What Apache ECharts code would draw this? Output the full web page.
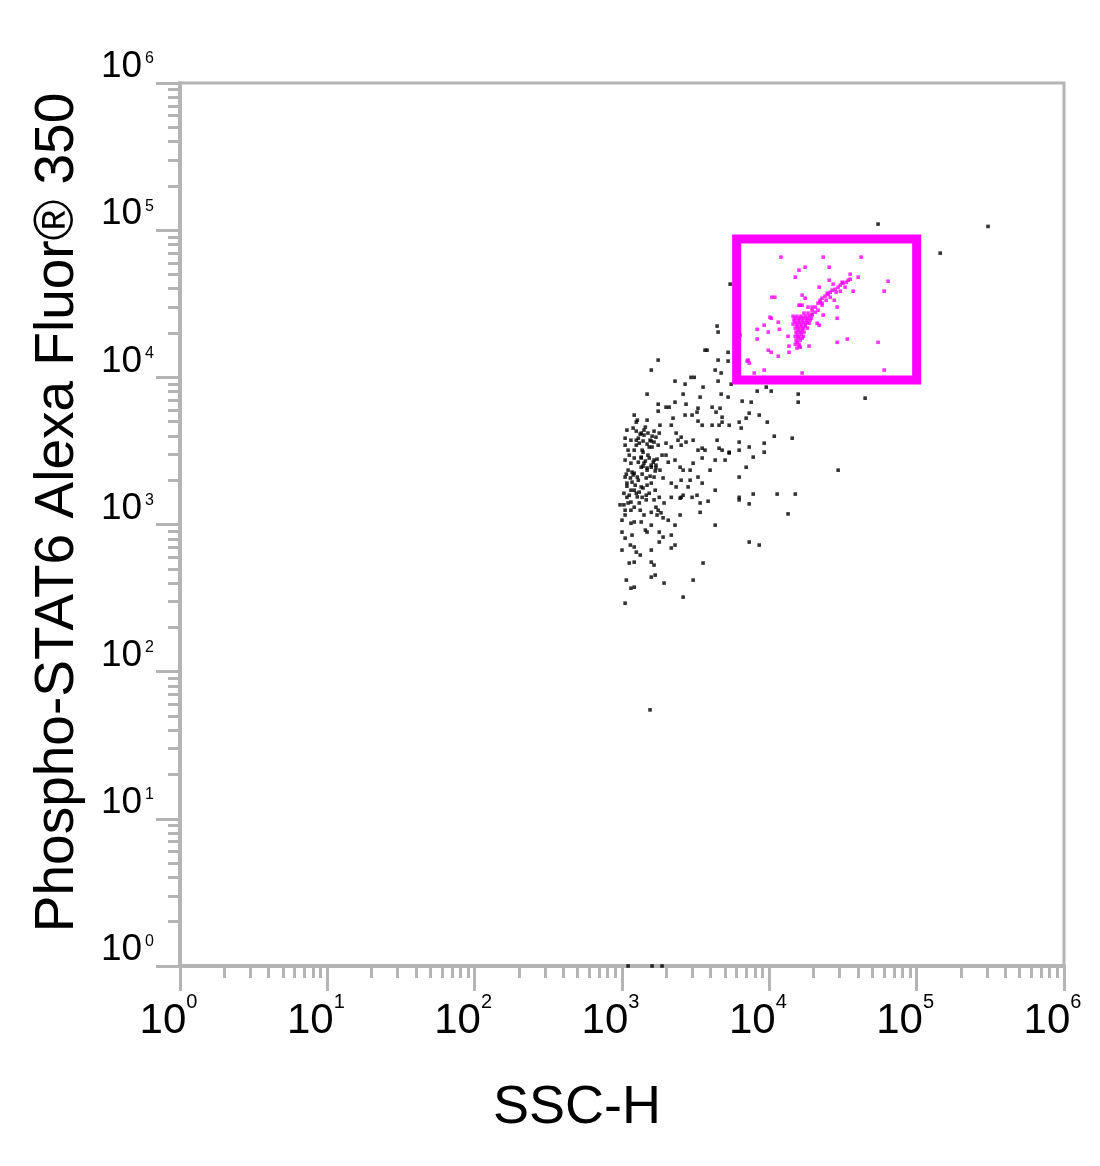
<!DOCTYPE html>
<html><head><meta charset="utf-8">
<script src="https://cdn.jsdelivr.net/npm/echarts@6/dist/echarts.min.js"></script>
<style>html,body{margin:0;padding:0;background:#fff}#chart{width:1100px;height:1166px}</style>
</head><body><div id="chart"></div>
<script>
// ---- chart data ----
const xTitle = 'SSC-H';
const yTitle = 'Phospho-STAT6 Alexa Fluor® 350';
const decadeExponents = [0, 1, 2, 3, 4, 5, 6];
const minorMultipliers = [2, 3, 4, 5, 6, 7, 8, 9];

// events outside the gate: [SSC-H, Phospho-STAT6]
const ungatedEvents = [
[54700,110000],[305000,106000],[144500,69800],[5420,43000],[4420,22300],[4490,20300],[3780,15300],[5250,14800],[5250,12900],[4490,13100],
[1760,13100],[1580,11200],[4290,11200],[4710,10700],[2290,9420],[2680,8990],[2940,10000],[3090,10000],[3550,8580],[4490,9420],
[5510,8990],[1480,7690],[2600,7690],[3390,7340],[4710,7690],[5250,7340],[6540,6890],[7530,6780],[8270,8060],[9530,8580],
[10300,8060],[15700,7690],[15700,6780],[44700,7220],[1760,6570],[1760,5890],[2290,6780],[2720,6570],[1990,6270],[2090,6270],
[3280,6170],[3230,5800],[4090,6270],[4350,5800],[4630,6170],[4780,5360],[4780,4960],[7300,5710],[6960,5280],[8540,5540],
[9680,4960],[1210,5540],[1250,4960],[1270,5120],[1480,5120],[2220,5280],[2680,5540],[2990,5540],[3280,5040],[3500,4730],
[4090,4730],[4560,4730],[5340,4730],[6440,4520],[6240,4960],[1350,4180],[1410,4050],[1650,4310],[1700,3920],[1790,4180],
[2160,4730],[2330,4180],[2520,3920],[10800,3980],[14300,3860],[1050,3860],[1050,3460],[1150,3740],[1210,3200],[1310,3570],
[1370,3200],[1530,3360],[1650,3630],[1760,3460],[1990,3570],[2160,3360],[2400,3740],[2520,3460],[2720,3630],[3040,3740],
[3280,3200],[3500,3300],[3660,3200],[4420,3740],[4560,3300],[4780,3200],[5340,3100],[6240,3630],[6240,3200],[7300,3360],
[7770,2870],[9230,3570],[9230,3100],[1120,2960],[1050,2740],[1150,2610],[1210,2830],[1350,2450],[1410,2610],[1480,2420],
[1580,2530],[1650,2740],[1700,2420],[1990,2960],[2060,2650],[2290,2740],[2480,2450],[2600,2340],[2900,2340],[3500,2830],
[3040,2610],[3280,2100],[3960,2340],[4290,2740],[5010,2740],[5340,3060],[6240,2100],[6960,2450],[29300,2340],[1050,2100],
[1080,1910],[1170,1940],[1270,2100],[1350,1800],[1460,2070],[1580,1910],[1650,2100],[1900,2070],[2160,1910],[2330,1800],
[2520,2000],[2900,2000],[2810,1800],[2520,1530],[3500,1910],[4290,1710],[6240,1530],[6240,1470],[7770,1610],[7300,1380],
[11300,1610],[15000,1610],[13400,1180],[1030,1630],[1080,1530],[1150,1420],[1210,1710],[1310,1400],[1370,1530],[1530,1630],
[1650,1470],[1790,1530],[1700,1310],[1030,1360],[1050,1250],[1150,1250],[1210,1310],[1930,1400],[2160,1530],[2480,1510],
[2600,1580],[2990,1530],[3230,1580],[3390,1400],[3840,1440],[1410,1160],[1580,1210],[1760,1250],[1840,1200],[1900,1110],
[1050,1160],[1210,1040],[1150,1020],[1350,1040],[1580,990],[2060,1070],[2290,990],[2480,1160],[3390,1210],[4290,990],
[1000,888],[1050,808],[1170,847],[1480,888],[1790,888],[1900,821],[2160,847],[7300,760],[8540,725],[1000,670],
[1210,703],[1250,649],[1580,670],[1790,760],[2160,692],[2290,725],[1120,547],[1210,555],[1580,555],[1650,530],
[1580,439],[1930,400],[3040,419],[3550,547],[1150,369],[1210,375],[2600,321],[1050,292],[1550,55],[1100,1],
[1600,1],[1870,1],[1080,4380],[1190,4520],[1250,3740],[1440,4590],[1550,3740],[1500,2960],[1390,3100],[1100,3200],
[1170,2270],[1290,2650],[1810,2340],[1870,2960],[1680,1710],[1460,1470],[1250,1630],[1100,1400],[1330,1250],[1480,1850],
[1190,2170],[970,1360],[1000,1070],[1350,2870],[1600,3360],[1810,4730],[1100,2340],[1730,1160],[1440,916],[1140,725],
[1330,620],[1070,419],[1680,453],[3660,15300],
[1250,4310],[1330,4110],[1410,4380],[1500,4180],[1600,3980],[1290,3860],[1390,3690],[1480,3520],[1580,3690],[1250,3460],
[1350,2830],[1440,2700],[1530,2830],[1630,2650],[1730,2780],[1390,2490],[1480,2340],[1580,2450],[1680,2310],[1370,2200],
[1550,2130],[1700,2530],[1070,2200],[1140,2070],[1210,2230],[1290,2000],[1080,1820],[1150,1710],[1230,1850],[1310,1660],
[1390,1770],[1460,1580],[1120,1580],[1270,1540]
];

// events inside the gate: [SSC-H, Phospho-STAT6]
const gatedEvents = [
[12000,65600],[23200,65600],[42000,65600],[15900,53500],[17500,56000],[25500,56000],[15000,47900],[25500,45700],[40100,47900],[35400,50200],
[64000,45000],[60200,38500],[21800,41000],[16700,36200],[17500,34500],[10400,35000],[10900,35000],[15900,30900],[16700,30900],[27600,33400],
[28900,30000],[37100,38500],[10300,25200],[9230,22600],[8270,21200],[9830,20300],[11500,23700],[11700,21200],[13400,19000],[8270,18200],
[13600,16300],[18600,16300],[28900,17300],[33800,18200],[54700,17300],[9830,15300],[10300,14800],[13600,14800],[11500,13900],[7070,12900],
[7300,12500],[9230,11200],[7900,10700],[16700,10700],[60200,11200],[6340,19400],[28900,25200],[23200,26500],[21100,23300],[21800,22600],
[19500,28600],[20500,30000],[21400,31900],[22100,33400],[22800,34500],[23900,35600],[25100,36700],[25900,37900],[26700,39100],[28000,39700],
[29300,41000],[30300,42300],[31700,43600],[33300,44300],[34300,45700],[28400,37900],[24300,33400],[30300,38500],[25900,35000],[32700,41000],
[22800,31900],[20500,27700],[21400,28600],[19500,26500],[24700,37300],[27100,43000],[31200,44300],[35400,46400],[18300,30000],[19500,30000],
[22100,32400],[22800,30900],[14500,26000],[15400,26000],[16400,26000],[17500,26000],[18600,26000],[19500,26900],[14700,24500],[15700,24500],
[16700,24500],[17800,24500],[18900,24500],[14500,23000],[15400,23000],[16400,23000],[17500,23000],[18600,23300],[15000,21600],[15900,21600],
[17000,21600],[18100,21600],[15200,20300],[16200,20300],[17200,20300],[15000,19000],[15900,19000],[17000,19000],[15200,17900],[16200,17900],
[15000,16800],[15900,16800],[15400,15800],[16200,16000],[18300,27300],[17200,27300],[16200,30900],[10100,25600],[7180,13100],
[14960,25240],[15930,25240],[16960,25240],[18060,25240],[19220,25240],[14960,23700],[15930,23700],[16960,23700],[18060,23700],[15440,22260],
[16440,22260],[17500,22260],[15680,20920],[16700,20920],[15440,19660],[16440,19660],[15680,18470],[16700,18470],[15440,17340],[15930,16290]
];

// rectangular gate corners
const gateSSC = [6000, 100000, 100000, 6000, 6000];
const gateSTAT6 = [87000, 87000, 9600, 9600, 87000];

// ---- rendering ----
const FONT = "'Liberation Sans', Arial, Helvetica, sans-serif";
const GRAY = '#b4b4b4';
const minorTickPositions = [];
decadeExponents.slice(0, -1).forEach(d => minorMultipliers.forEach(m => minorTickPositions.push(d + Math.log10(m))));
const expOf = v => decadeExponents.reduce((a, e) => Math.abs(Math.pow(10, e) - v) < Math.abs(Math.pow(10, a) - v) ? e : a, 0);

const chart = echarts.init(document.getElementById('chart'), null, {renderer: 'canvas'});
chart.setOption({
  animation: false,
  backgroundColor: '#fff',
  grid: {left: 180, right: 36, top: 83, bottom: 200, show: true, borderColor: GRAY, borderWidth: 3, backgroundColor: 'transparent'},
  xAxis: [
    {
      type: 'log', logBase: 10, min: 1, max: 1e6, position: 'bottom',
      axisLine: {show: true, onZero: false, lineStyle: {color: GRAY, width: 4}},
      axisTick: {show: true, length: 25, lineStyle: {color: GRAY, width: 3}},
      splitLine: {show: false}, minorTick: {show: false},
      axisLabel: {
        margin: 26, padding: [0, 23, 0, 0], fontFamily: FONT, color: '#000',
        formatter: v => '{b|10}{s|' + expOf(v) + '}',
        rich: {
          b: {fontSize: 42, height: 42, lineHeight: 50, verticalAlign: 'bottom', fontFamily: FONT, color: '#000'},
          s: {fontSize: 20, height: 20, lineHeight: 20, verticalAlign: 'top', fontFamily: FONT, color: '#000'}
        }
      },
      name: xTitle, nameLocation: 'middle', nameGap: 115,
      nameTextStyle: {fontSize: 54, lineHeight: 54, fontFamily: FONT, color: '#000', padding: [0, 90, 0, 0]}
    },
    {
      type: 'value', min: 0, max: 6, position: 'bottom',
      axisLine: {show: false}, axisLabel: {show: false}, splitLine: {show: false},
      axisTick: {show: true, length: 12, customValues: minorTickPositions, lineStyle: {color: GRAY, width: 3}}
    }
  ],
  yAxis: [
    {
      type: 'log', logBase: 10, min: 1, max: 1e6, position: 'left',
      axisLine: {show: true, onZero: false, lineStyle: {color: GRAY, width: 4}},
      axisTick: {show: true, length: 24, lineStyle: {color: GRAY, width: 3}},
      splitLine: {show: false}, minorTick: {show: false},
      axisLabel: {
        margin: 26, verticalAlign: 'bottom', fontFamily: FONT, color: '#000',
        formatter: v => '{b|10}{s|' + expOf(v) + '}',
        rich: {
          b: {fontSize: 37, height: 32, lineHeight: 32, verticalAlign: 'bottom', fontFamily: FONT, color: '#000'},
          s: {fontSize: 16, height: 16, padding: [0, 0, 0, 3], verticalAlign: 'top', fontFamily: FONT, color: '#000'}
        }
      },
      name: yTitle, nameLocation: 'middle', nameRotate: 90, nameGap: 95,
      nameTextStyle: {fontSize: 55, lineHeight: 55, fontFamily: FONT, color: '#000', padding: [0, 0, 0, 24]}
    },
    {
      type: 'value', min: 0, max: 6, position: 'left',
      axisLine: {show: false}, axisLabel: {show: false}, splitLine: {show: false},
      axisTick: {show: true, length: 12, customValues: minorTickPositions, lineStyle: {color: GRAY, width: 3}}
    }
  ],
  series: [
    {type: 'scatter', name: 'ungated', xAxisIndex: 0, yAxisIndex: 0, data: ungatedEvents,
     symbol: 'rect', symbolSize: 3.6, itemStyle: {color: '#000'}, silent: true},
    {type: 'scatter', name: 'gated', xAxisIndex: 0, yAxisIndex: 0, data: gatedEvents,
     symbol: 'rect', symbolSize: 3.6, itemStyle: {color: '#ff00ff'}, silent: true},
    {type: 'line', name: 'gate', xAxisIndex: 0, yAxisIndex: 0,
     data: gateSSC.map((x, i) => [x, gateSTAT6[i]]),
     symbol: 'none', silent: true, z: 3,
     lineStyle: {color: '#ff00ff', width: 9, join: 'miter', cap: 'square'}}
  ]
});
</script>
</body></html>
